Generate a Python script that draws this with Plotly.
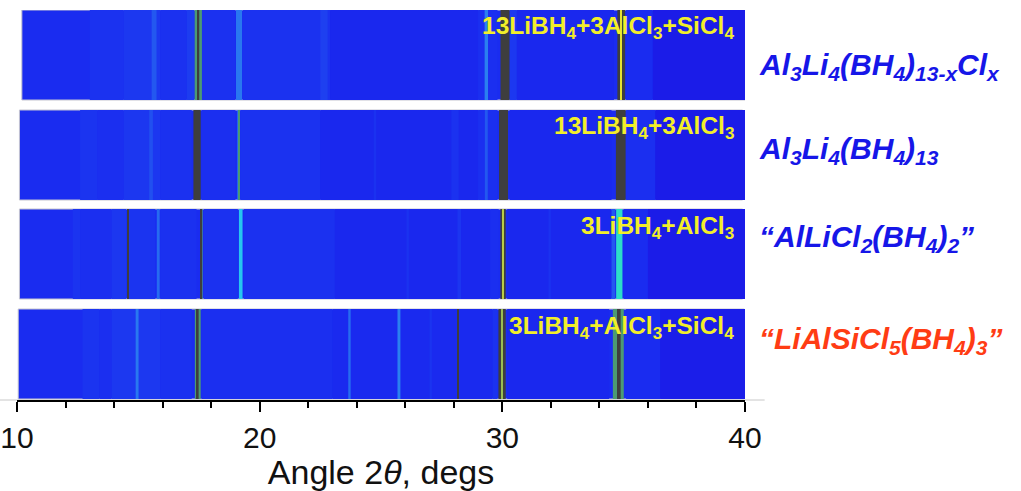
import plotly.graph_objects as go

# ---------------- data ----------------
x_range = [10, 40]
major_ticks = [10, 20, 30, 40]

inner_labels = [
    "13LiBH<sub>4</sub>+3AlCl<sub>3</sub>+SiCl<sub>4</sub>",
    "13LiBH<sub>4</sub>+3AlCl<sub>3</sub>",
    "3LiBH<sub>4</sub>+AlCl<sub>3</sub>",
    "3LiBH<sub>4</sub>+AlCl<sub>3</sub>+SiCl<sub>4</sub>",
]
outer_labels = [
    "Al<sub>3</sub>Li<sub>4</sub>(BH<sub>4</sub>)<sub>13-x</sub>Cl<sub>x</sub>",
    "Al<sub>3</sub>Li<sub>4</sub>(BH<sub>4</sub>)<sub>13</sub>",
    "\u201cAlLiCl<sub>2</sub>(BH<sub>4</sub>)<sub>2</sub>\u201d",
    "\u201cLiAlSiCl<sub>5</sub>(BH<sub>4</sub>)<sub>3</sub>\u201d",
]

# broad background bands (2theta start, end, relative intensity 0..1)
s1_band_lo = [13.0, 14.4, 15.55, 15.9, 17.0, 17.6, 19.3, 22.5, 22.9, 29.0, 30.3, 30.6, 35.1, 36.2]
s1_band_hi = [14.4, 15.9, 15.75, 17.0, 17.3, 19.0, 22.9, 22.8, 29.0, 29.8, 30.6, 34.6, 36.2, 40.0]
s1_band_in = [0.14, 0.18, 0.30, 0.13, 0.20, 0.13, 0.14, 0.22, 0.08, 0.12, 0.18, 0.08, 0.10, 0.02]

s2_band_lo = [12.6, 13.3, 14.4, 15.45, 15.9, 17.6, 19.2, 22.5, 24.7, 27.9, 29.0, 30.3, 35.1, 36.3]
s2_band_hi = [13.3, 14.4, 15.9, 15.6, 17.2, 19.0, 22.5, 29.0, 24.8, 28.2, 29.8, 34.5, 36.3, 40.0]
s2_band_in = [0.15, 0.12, 0.17, 0.28, 0.13, 0.12, 0.14, 0.08, 0.14, 0.14, 0.12, 0.08, 0.12, 0.02]

s3_band_lo = [12.3, 12.6, 13.9, 14.6, 15.9, 17.7, 19.35, 23.1, 26.05, 28.15, 29.5, 30.2, 31.9, 34.5, 35.0, 36.0]
s3_band_hi = [12.6, 13.9, 14.5, 15.7, 17.4, 19.1, 23.1, 29.5, 26.15, 28.3, 29.85, 34.5, 32.0, 34.65, 36.0, 40.0]
s3_band_in = [0.15, 0.12, 0.17, 0.15, 0.13, 0.13, 0.13, 0.08, 0.14, 0.16, 0.12, 0.08, 0.14, 0.30, 0.10, 0.02]

s4_band_lo = [12.7, 13.4, 13.9, 15.9, 17.6, 23.0, 27.0, 29.6, 30.2, 35.1, 36.5]
s4_band_hi = [13.4, 13.9, 15.9, 17.2, 23.0, 29.6, 27.1, 29.8, 34.4, 36.5, 40.0]
s4_band_in = [0.15, 0.12, 0.18, 0.13, 0.12, 0.09, 0.15, 0.14, 0.08, 0.10, 0.03]

# diffraction lines (2theta centre, width, relative intensity 0..1)
s1_pk_pos = [17.47, 17.47, 19.15, 29.34, 30.11, 34.90, 34.90]
s1_pk_wid = [0.30, 0.08, 0.25, 0.14, 0.37, 0.32, 0.05]
s1_pk_int = [0.75, 1.00, 0.38, 0.40, 1.00, 1.00, 0.85]

s2_pk_pos = [17.42, 19.13, 19.13, 29.34, 30.05, 34.88]
s2_pk_wid = [0.30, 0.10, 0.04, 0.12, 0.37, 0.40]
s2_pk_int = [1.00, 0.40, 0.75, 0.30, 1.00, 1.00]

s3_pk_pos = [14.57, 15.82, 17.60, 17.60, 19.22, 30.03, 30.03, 34.82]
s3_pk_wid = [0.05, 0.12, 0.10, 0.04, 0.15, 0.22, 0.05, 0.26]
s3_pk_int = [1.00, 0.35, 0.75, 1.00, 0.55, 1.00, 0.82, 0.62]

s4_pk_pos = [14.95, 17.45, 17.45, 23.70, 25.74, 28.17, 29.99, 29.99, 34.78, 34.80]
s4_pk_wid = [0.12, 0.24, 0.07, 0.10, 0.12, 0.05, 0.30, 0.05, 0.45, 0.15]
s4_pk_int = [0.38, 0.75, 1.00, 0.35, 0.40, 1.00, 1.00, 0.80, 0.75, 1.00]

# ---------------- styling ----------------
colorscale = [
    [0.00, "#1b18e6"],
    [0.10, "#1a2cf0"],
    [0.18, "#1c38f0"],
    [0.26, "#2048f0"],
    [0.40, "#2a80f0"],
    [0.55, "#26c6f0"],
    [0.65, "#2ee8b8"],
    [0.75, "#4c9a74"],
    [0.85, "#e6e232"],
    [1.00, "#3e3e3e"],
]
bg_level = 0.10

strip_base = [300, 200, 101, 1]
strip_height = 90
strip_x0 = [10.2, 10.1, 10.1, 10.05]
strip_x1 = [40.0, 39.9, 39.9, 39.97]

bands = [
    (s1_band_lo, s1_band_hi, s1_band_in),
    (s2_band_lo, s2_band_hi, s2_band_in),
    (s3_band_lo, s3_band_hi, s3_band_in),
    (s4_band_lo, s4_band_hi, s4_band_in),
]
peaks = [
    (s1_pk_pos, s1_pk_wid, s1_pk_int),
    (s2_pk_pos, s2_pk_wid, s2_pk_int),
    (s3_pk_pos, s3_pk_wid, s3_pk_int),
    (s4_pk_pos, s4_pk_wid, s4_pk_int),
]

fig = go.Figure()

for k in range(4):
    base = strip_base[k]
    fig.add_trace(go.Bar(
        x=[(strip_x0[k] + strip_x1[k]) / 2], width=[strip_x1[k] - strip_x0[k]],
        y=[strip_height], base=[base],
        marker=dict(color=[bg_level], colorscale=colorscale, cmin=0, cmax=1,
                    line=dict(color="#c4c4d0", width=1)),
        hoverinfo="skip", showlegend=False,
    ))
    lo, hi, lv = bands[k]
    pos, wid, lv2 = peaks[k]
    xs = [(a + b) / 2 for a, b in zip(lo, hi)] + list(pos)
    ws = [b - a for a, b in zip(lo, hi)] + list(wid)
    cs = list(lv) + list(lv2)
    fig.add_trace(go.Bar(
        x=xs, width=ws, y=[strip_height] * len(xs), base=[base] * len(xs),
        marker=dict(color=cs, colorscale=colorscale, cmin=0, cmax=1,
                    line=dict(width=0)),
        hoverinfo="skip", showlegend=False,
    ))

# labels
inner_y = [390, 290, 190, 90]
outer_y = [334, 250, 162, 60]
outer_colors = ["#1616e8", "#1616e8", "#1616e8", "#ff3c14"]
for k in range(4):
    fig.add_annotation(
        x=39.62, y=inner_y[k], xref="x", yref="y", xanchor="right", yanchor="top",
        text="<b>" + inner_labels[k] + "</b>", showarrow=False,
        font=dict(family="Liberation Sans, Arial", size=24.5, color="#f2ee2a"),
    )
    fig.add_annotation(
        x=1.017, y=outer_y[k], xref="paper", yref="y", xanchor="left", yanchor="middle",
        text="<b><i>" + outer_labels[k] + "</i></b>", showarrow=False,
        font=dict(family="Liberation Sans, Arial", size=30, color=outer_colors[k]),
    )

fig.add_shape(type="line", xref="paper", yref="paper", x0=-0.03, x1=1.027, y0=0, y1=0,
              line=dict(color="#c8c8c8", width=1), layer="below")

fig.update_layout(
    width=1021, height=491,
    margin=dict(l=17, r=276, t=10, b=91, autoexpand=False),
    paper_bgcolor="white", plot_bgcolor="white",
    barmode="overlay",
    xaxis=dict(
        range=x_range, tickvals=major_ticks, ticks="outside", ticklen=10, tickwidth=2,
        tickcolor="black", showline=True, linecolor="black", linewidth=2,
        showgrid=False, zeroline=False, ticklabeloverflow="allow", automargin=False,
        tickfont=dict(family="Liberation Sans, Arial", size=30, color="#111111"),
        minor=dict(tick0=10, dtick=2, ticks="outside", ticklen=6, tickwidth=2, tickcolor="black", showgrid=False),
        title=dict(text="Angle 2<i>θ</i>, degs", standoff=2,
                   font=dict(family="Liberation Sans, Arial", size=34, color="#111111")),
    ),
    yaxis=dict(range=[0, 390], visible=False, fixedrange=True, automargin=False),
)

fig.write_html("out.html")
